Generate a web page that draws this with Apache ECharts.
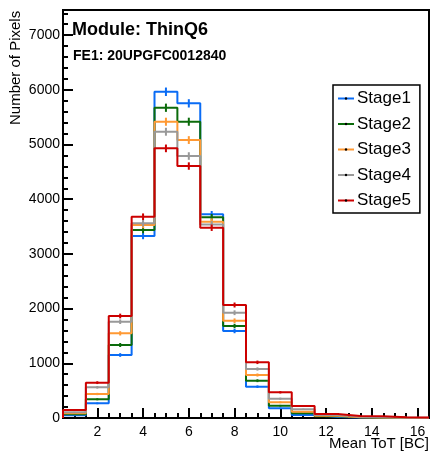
<!DOCTYPE html>
<html>
<head>
<meta charset="utf-8">
<script src="https://cdn.jsdelivr.net/npm/echarts@6/dist/echarts.min.js"></script>
<style>
html,body{margin:0;padding:0;background:#fff;}
#chart{width:431px;height:456px;}
</style>
</head>
<body>
<div id="chart"></div>
<script>
// Bin centres (Mean ToT [BC]); bin width 1
const binCenters = [1,2,3,4,5,6,7,8,9,10,11,12,13,14,15,16];
const stageNames = ['Stage1','Stage2','Stage3','Stage4','Stage5'];
const stage1 = [50, 268, 1152, 3327, 5965, 5753, 3724, 1590, 572, 177, 55, 20, 8, 5, 3, 2];
const stage2 = [69, 342, 1335, 3437, 5673, 5417, 3669, 1682, 682, 225, 86, 30, 12, 6, 3, 2];
const stage3 = [86, 439, 1548, 3528, 5417, 5082, 3590, 1779, 786, 287, 115, 40, 15, 8, 4, 2];
const stage4 = [104, 561, 1761, 3560, 5234, 4790, 3540, 1925, 896, 353, 159, 55, 22, 12, 6, 3];
const stage5 = [146, 646, 1865, 3680, 4930, 4607, 3479, 2066, 1018, 470, 219, 73, 37, 30, 13, 10];
const stageColors = ['#0a6cf5','#0b6b0b','#ff9933','#999999','#cc0000'];
const xMajorTicks = [2,4,6,8,10,12,14,16];
const xMinorTicks = [1,1.5,2.5,3,3.5,4.5,5,5.5,6.5,7,7.5,8.5,9,9.5,10.5,11,11.5,12.5,13,13.5,14.5,15,15.5,16.5];
const yMajorTicks = [0,1000,2000,3000,4000,5000,6000,7000];
const yMinorTicks = [200,400,600,800,1200,1400,1600,1800,2200,2400,2600,2800,3200,3400,3600,3800,4200,4400,4600,4800,5200,5400,5600,5800,6200,6400,6600,6800,7200,7400];
const xMin = 0.5, xMax = 16.5, yMin = 0, yMax = 7460;
const titleText = 'Module: ThinQ6';
const subText = 'FE1: 20UPGFC0012840';
const xTitle = 'Mean ToT [BC]';
const yTitle = 'Number of Pixels';

const allStages = [stage1, stage2, stage3, stage4, stage5];
const FONT = 'Liberation Sans, Arial, Helvetica, sans-serif';

function stepPath(vals){
  const pts = [[binCenters[0]-0.5, 0]];
  vals.forEach((v,i)=>{
    pts.push([binCenters[i]-0.5, v]);
    pts.push([binCenters[i]+0.5, v]);
  });
  return pts;
}

const series = [];
allStages.forEach((vals, k)=>{
  series.push({
    name: stageNames[k],
    type: 'line',
    data: stepPath(vals),
    xAxisIndex: 0, yAxisIndex: 0,
    symbol: 'circle', symbolSize: 3, showSymbol: false,
    lineStyle: {color: stageColors[k], width: 2},
    itemStyle: {color: stageColors[k]},
    animation: false, silent: true, z: 2 + k*2
  });
  series.push({
    name: stageNames[k],
    type: 'custom',
    xAxisIndex: 0, yAxisIndex: 0,
    data: vals.map((v,i)=>[binCenters[i], v]),
    renderItem: function(params, api){
      const x = api.value(0), v = api.value(1);
      const e = Math.sqrt(v);
      const p1 = api.coord([x, v - e]);
      const p2 = api.coord([x, v + e]);
      return {type:'line', shape:{x1:p1[0], y1:p1[1], x2:p2[0], y2:p2[1]},
        style:{stroke: stageColors[k], lineWidth: 2}};
    },
    animation: false, silent: true, z: 3 + k*2
  });
});

const chart = echarts.init(document.getElementById('chart'), null, {renderer:'canvas'});
chart.setOption({
  animation: false,
  backgroundColor: '#fff',
  grid: {left: 63, right: 2, top: 10, bottom: 38, show: true, borderColor: '#000', borderWidth: 2, backgroundColor: 'transparent'},
  xAxis: [{
    type: 'value', min: xMin, max: xMax, position: 'bottom',
    axisLine: {show: true, lineStyle: {color: '#000', width: 2}},
    axisTick: {show: true, inside: true, length: 10, lineStyle: {color: '#000', width: 2}, customValues: xMajorTicks},
    axisLabel: {show: true, customValues: xMajorTicks, color: '#000', fontSize: 14, fontFamily: FONT, margin: 7,
      formatter: v => String(v)},
    splitLine: {show: false}
  },{
    type: 'value', min: xMin, max: xMax, position: 'bottom',
    axisLine: {show: false},
    axisTick: {show: true, inside: true, length: 5, lineStyle: {color: '#000', width: 2}, customValues: xMinorTicks},
    axisLabel: {show: false},
    splitLine: {show: false}
  }],
  yAxis: [{
    type: 'value', min: yMin, max: yMax, position: 'left',
    axisLine: {show: true, lineStyle: {color: '#000', width: 2}},
    axisTick: {show: true, inside: true, length: 10, lineStyle: {color: '#000', width: 2}, customValues: yMajorTicks},
    axisLabel: {show: true, customValues: yMajorTicks, color: '#000', fontSize: 14, fontFamily: FONT, margin: 3,
      formatter: v => String(v)},
    splitLine: {show: false}
  },{
    type: 'value', min: yMin, max: yMax, position: 'left',
    axisLine: {show: false},
    axisTick: {show: true, inside: true, length: 5, lineStyle: {color: '#000', width: 2}, customValues: yMinorTicks},
    axisLabel: {show: false},
    splitLine: {show: false}
  }],
  legend: {
    show: true, orient: 'vertical', left: 333, top: 85,
    data: stageNames.map(n=>({name: n, itemStyle: {color: '#000'}})),
    backgroundColor: '#fff', borderColor: '#000', borderWidth: 1.5, borderRadius: 0,
    padding: [5, 9, 4, 4], itemGap: 8.5, itemWidth: 16, itemHeight: 3,
    textStyle: {color: '#000', fontSize: 17, fontFamily: FONT, lineHeight: 17, padding: [0,0,0,-2]},
    selectedMode: false
  },
  graphic: [
    {type:'text', left: 72, top: 21, style:{text: titleText, font: 'bold 18px ' + FONT, fill:'#000'}, z: 50},
    {type:'text', left: 73, top: 49, style:{text: subText, font: 'bold 14px ' + FONT, fill:'#000'}, z: 50},
    {type:'text', right: 2, top: 436, style:{text: xTitle, font: '15px ' + FONT, fill:'#000'}, z: 50},
    {type:'text', x: 8, y: 125, rotation: Math.PI/2, style:{text: yTitle, font: '15px ' + FONT, fill:'#000', textVerticalAlign:'top'}, z: 50}
  ],
  series: series
});
</script>
</body>
</html>
